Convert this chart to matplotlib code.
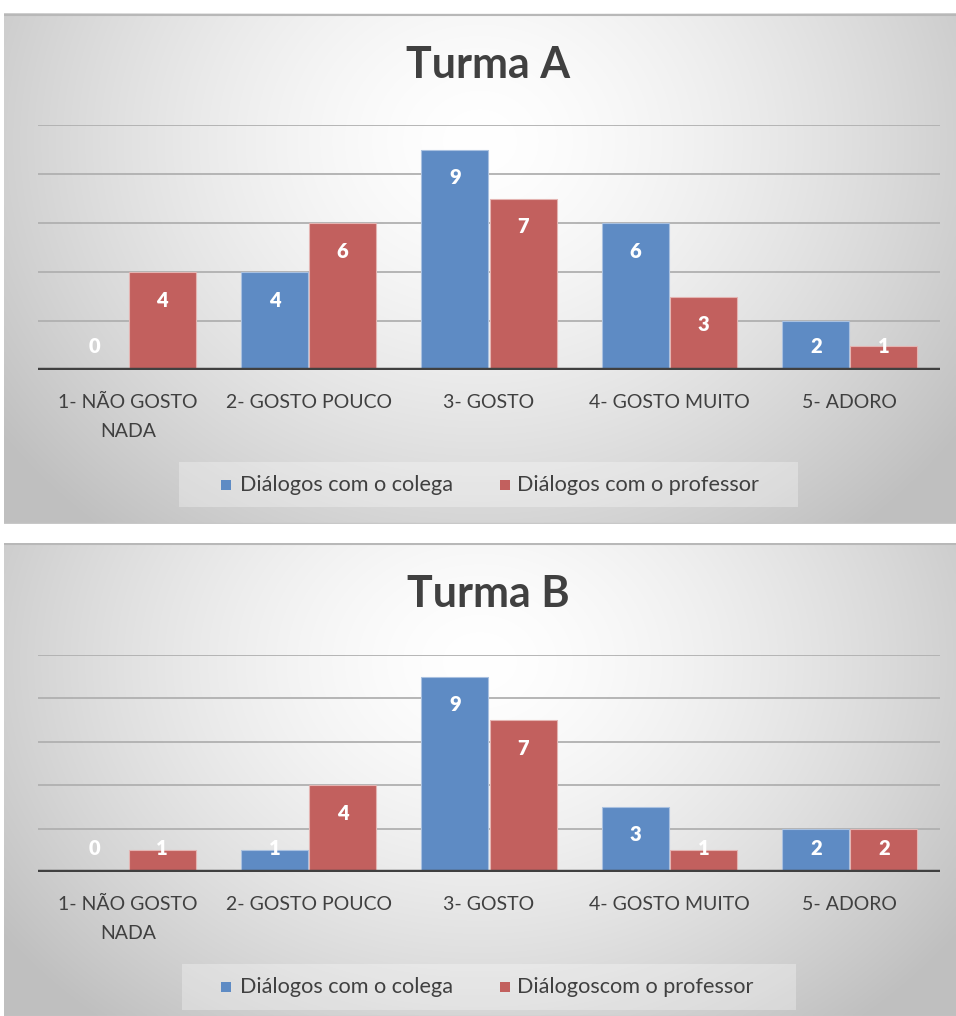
import numpy as np
import matplotlib
matplotlib.use("Agg")
import matplotlib.pyplot as plt
from matplotlib.patches import Rectangle

plt.rcParams['font.family'] = ['Lato', 'DejaVu Sans']

categories = ["1- NÃO GOSTO\nNADA", "2- GOSTO POUCO", "3- GOSTO", "4- GOSTO MUITO", "5- ADORO"]
titles = ["Turma A", "Turma B"]
colega_A = [0, 4, 9, 6, 2]
professor_A = [4, 6, 7, 3, 1]
colega_B = [0, 1, 9, 3, 2]
professor_B = [1, 4, 7, 1, 2]
legend_A = ["Diálogos com o colega", "Diálogos com o professor"]
legend_B = ["Diálogos com o colega", "Diálogoscom o professor"]

BLUE = "#5e8bc4"
RED = "#c2605e"
TXT = "#404040"

W, H = 956, 1016
fig = plt.figure(figsize=(W / 100, H / 100), dpi=100)
fig.patch.set_facecolor("white")


def rect(x0, y0, x1, y1):
    return [x0 / W, 1 - y1 / H, (x1 - x0) / W, (y1 - y0) / H]


def background(box):
    ax = fig.add_axes(rect(*box))
    ax.set_axis_off()
    nx, ny = 400, 220
    xx, yy = np.meshgrid(np.linspace(0, 1, nx), np.linspace(0, 1, ny))
    r = np.sqrt(((xx - 0.5) / 0.62) ** 2 + ((yy - 0.25) / 1.0) ** 2)
    r = np.clip(r, 0, 1)
    g = 1.0 - 0.25 * r ** 1.5
    img = np.dstack([g, g, g])
    ax.imshow(img, aspect="auto", extent=(0, 1, 1, 0), interpolation="bilinear")
    ax.set_xlim(0, 1)
    ax.set_ylim(1, 0)
    ax.plot([0, 1], [0.997, 0.997], color="#b8b8b8", lw=1.5, transform=ax.transAxes)
    ax.plot([0, 1], [0.001, 0.001], color="#c8c8c8", lw=1.0, transform=ax.transAxes)
    return ax


def panel(panel_box, axes_box, title, title_y, colega, professor, legtexts, leg_box, leg_y):
    background(panel_box)
    fig.text(488 / W, 1 - title_y / H, title, ha="center", va="center",
             fontsize=31, fontweight="bold", color=TXT)

    ax = fig.add_axes(rect(*axes_box))
    ax.set_facecolor("none")
    x = np.arange(len(categories))
    bw = 0.372
    ax.set_ylim(0, 10)
    ax.set_xlim(-0.5, len(categories) - 0.5)
    for yv in [2, 4, 6, 8, 10]:
        ax.axhline(yv, color="#b0b0b0", lw=1.3, zorder=0)
    b1 = ax.bar(x - bw / 2 - 0.003, colega, bw, color=BLUE, edgecolor="#a9c1e0", lw=0.8, zorder=2)
    b2 = ax.bar(x + bw / 2 + 0.003, professor, bw, color=RED, edgecolor="#e4b4b2", lw=0.8, zorder=2)

    px_per_unit = (axes_box[3] - axes_box[1]) / 10.0
    thr = 52.0 / px_per_unit
    for bars, vals in ((b1, colega), (b2, professor)):
        for rct, v in zip(bars, vals):
            cx = rct.get_x() + rct.get_width() / 2
            ax.annotate(str(v), xy=(cx, max(v, thr)), xytext=(0, -20.2),
                        textcoords="offset points", ha="center", va="center",
                        color="white", fontsize=14.5, fontweight="heavy", zorder=4)

    ax.axhline(0, color="#404040", lw=3.2, zorder=3)
    for s in ax.spines.values():
        s.set_visible(False)
    ax.set_yticks([])
    ax.set_xticks(x)
    ax.set_xticklabels(categories, fontsize=14, color=TXT, linespacing=1.9, va="top")
    ax.tick_params(axis="x", length=0, pad=17)

    lax = fig.add_axes(rect(*leg_box))
    lax.set_axis_off()
    lax.add_patch(Rectangle((0, 0), 1, 1, transform=lax.transAxes,
                            facecolor="white", alpha=0.3, edgecolor="none"))
    sq = 10
    for (sx, tx), col, txt in zip(((221, 240), (500, 517)), (BLUE, RED), legtexts):
        fig.patches.append(Rectangle((sx / W, 1 - (leg_y + sq / 2) / H), sq / W, sq / H,
                                     transform=fig.transFigure, facecolor=col,
                                     edgecolor="none", zorder=5))
        fig.text(tx / W, 1 - leg_y / H, txt, ha="left", va="center",
                 fontsize=15.6, color=TXT)


panel((4, 13, 956, 524), (38, 125, 940, 370), titles[0], 65,
      colega_A, professor_A, legend_A, (179, 462, 798, 507), 485)
panel((4, 543, 956, 1016), (38, 655, 940, 872), titles[1], 594,
      colega_B, professor_B, legend_B, (182, 964, 796, 1010), 987)

fig.savefig("out.png", dpi=100, facecolor="white")
